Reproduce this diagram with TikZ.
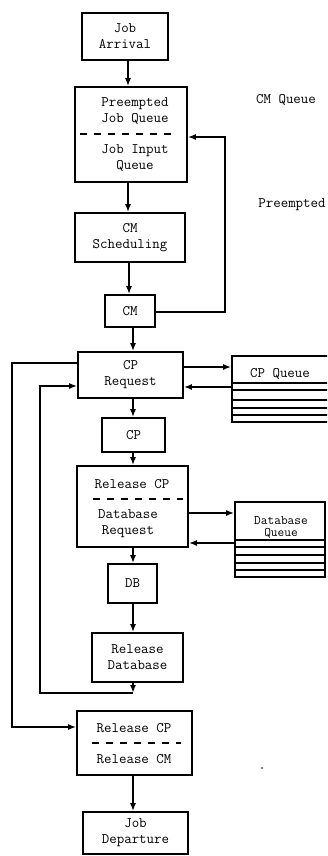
\documentclass[tikz,border=0pt]{standalone}
\usepackage{fontspec}
\usetikzlibrary{arrows.meta}
\begin{document}
\begin{tikzpicture}[x=1pt,y=-1pt,
  txt/.style={inner sep=0pt, align=center, font={\ttfamily\fontsize{14.5}{16}\selectfont}},
  box/.style={draw, line width=1.6pt, inner sep=0pt, align=center, font={\ttfamily\fontsize{14.5}{16}\selectfont}},
  arr/.style={line width=1.6pt, -{Latex[length=8pt,width=6pt]}},
  dsh/.style={line width=1.1pt, dash pattern=on 7pt off 7pt},
  slot/.style={line width=1.2pt}]
\clip (0,0) rectangle (327,856);
\fill[white] (0,0) rectangle (327,856);
% boxes
\node[box, minimum width=86pt, minimum height=47pt] (arrival) at (125,36.5) {Job\\Arrival};
\node[box, minimum width=112pt, minimum height=95pt] (pq) at (131,134.5) {};
\node[txt] (pqa) at (135,111) {Preempted\\Job Queue};
\node[txt] (pqb) at (135,158) {Job Input\\Queue};
\draw[dsh] (80,134) -- (174,134);
\node[box, minimum width=110pt, minimum height=49pt] (sch) at (130,237.5) {CM\\Scheduling};
\node[box, minimum width=50pt, minimum height=32pt] (cm) at (130,311) {CM};
\node[box, minimum width=105pt, minimum height=46pt] (cpr) at (130.5,375) {CP\\Request};
\node[box, minimum width=63pt, minimum height=34pt] (cp) at (133.5,435) {CP};
\node[box, minimum width=111pt, minimum height=81pt] (rcp) at (132.5,506.5) {};
\node[txt] (rcpa) at (132,484) {Release CP};
\node[txt] (rcpb) at (128,523.5) {Database\\Request};
\draw[dsh] (93,499) -- (183,499);
\node[box, minimum width=49pt, minimum height=39pt] (db) at (132.5,583.5) {DB};
\node[box, minimum width=91pt, minimum height=49pt] (rdb) at (137.5,657.5) {Release\\Database};
\node[box, minimum width=115pt, minimum height=64pt] (rcm) at (134.5,743) {};
\node[txt] (rcma) at (134,728) {Release CP};
\node[txt] (rcmb) at (134,759) {Release CM};
\draw[dsh] (92,743) -- (181,743);
\node[box, minimum width=105pt, minimum height=42pt] (dep) at (135.5,833) {Job\\Departure};
% queues
\node[box, minimum width=110pt, minimum height=66pt] (cpq) at (287,389) {};
\node[txt] (cpqt) at (280,374) {CP Queue};
\foreach \yy in {383,390,400,408,415} \draw[slot] (232,\yy) -- (340,\yy);
\node[box, minimum width=90pt, minimum height=75pt] (dbq) at (280,539.5) {};
\node[txt, font={\ttfamily\fontsize{13}{12}\selectfont}] (dbqt) at (281,527) {Database\\Queue};
\foreach \yy in {540,547,555,563,570} \draw[slot] (235,\yy) -- (325,\yy);
% labels
\node[txt] (lcmq) at (286,100) {CM Queue};
\node[txt] (lpre) at (292,205) {Preempted};
\fill (262,768) circle (0.8pt);
% connectors
\coordinate (fb) at (225,137);
\coordinate (jn) at (133,693);
\coordinate (il) at (40,693);
\coordinate (ol) at (12,727);
\draw[arr] (arrival.south -| 128,0) -- (pq.north -| 128,0);
\draw[arr] (pq.south -| 128,0) -- (sch.north -| 128,0);
\draw[arr] (sch.south -| 129,0) -- (cm.north -| 129,0);
\draw[arr] (cm.south -| 133,0) -- (cpr.north -| 133,0);
\draw[arr] (cm.east |- 0,312) -| (fb) -- (pq.east |- fb);
\draw[arr] (cpr.east |- 0,367) -- (cpq.west |- 0,367);
\draw[arr] (cpq.west |- 0,387) -- (cpr.east |- 0,387);
\draw[arr] (cpr.south -| 133,0) -- (cp.north -| 133,0);
\draw[arr] (cp.south -| 133,0) -- (rcp.north -| 133,0);
\draw[arr] (rcp.east |- 0,513) -- (dbq.west |- 0,513);
\draw[arr] (dbq.west |- 0,543) -- (rcp.east |- 0,543);
\draw[arr] (rcp.south -| 133,0) -- (db.north -| 133,0);
\draw[arr] (db.south -| 133,0) -- (rdb.north -| 133,0);
\draw[arr] (rdb.south -| jn) -- (jn);
\draw[arr] (jn) -- (il) -- (40,386) -- (cpr.west |- 0,386);
\draw[arr] (cpr.west |- 0,363) -- (12,363) -- (ol) -- (rcm.west |- ol);
\draw[arr] (rcm.south -| 133,0) -- (dep.north -| 133,0);
\end{tikzpicture}
\end{document}
